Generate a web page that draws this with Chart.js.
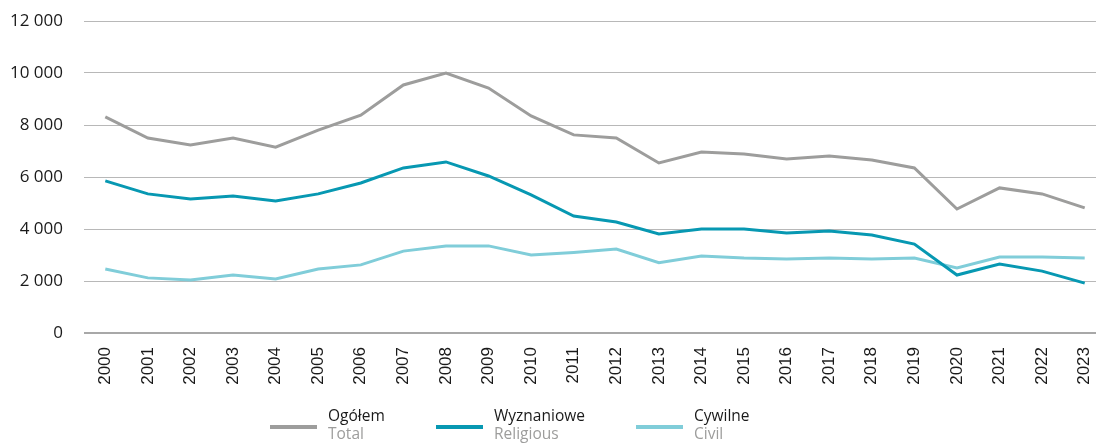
<!DOCTYPE html>
<html>

<head>
    <meta charset="utf-8">
    <title>Małżeństwa</title>
    <script src="https://cdn.jsdelivr.net/npm/chart.js"></script>
    <style>
        body { margin: 0; background: #fff; }
        #wrap { position: relative; width: 1096px; height: 446px; overflow: hidden; }
        #legend { position: absolute; left: 0; top: 406px; width: 1096px; height: 40px;
                  font-family: "Open Sans", sans-serif; font-size: 15.5px; line-height: 18px; }
        .item { position: absolute; top: 0; display: flex; align-items: flex-start; }
        .swatch { width: 47px; height: 4px; margin-top: 19px; margin-right: 11px; }
        .en { color: #9d9d9c; }
        .pl { color: #1a1a1a; }
    </style>
</head>

<body>
    <div id="wrap">
        <!-- the source picture is cut off on the right, so the canvas is a bit wider than the page -->
        <canvas id="myChart" width="1106" height="446"></canvas>
        <div id="legend"></div>
    </div>

    <script>
        // Data
        const years = ['2000', '2001', '2002', '2003', '2004', '2005', '2006', '2007', '2008', '2009', '2010', '2011',
            '2012', '2013', '2014', '2015', '2016', '2017', '2018', '2019', '2020', '2021', '2022', '2023'];
        const total = [8310, 7500, 7230, 7500, 7150, 7800, 8380, 9540, 10000, 9420, 8350, 7620,
            7500, 6540, 6960, 6880, 6690, 6810, 6650, 6350, 4770, 5580, 5350, 4810];
        const religious = [5850, 5350, 5150, 5270, 5080, 5350, 5770, 6350, 6580, 6040, 5310, 4500,
            4270, 3810, 4000, 4000, 3850, 3920, 3770, 3420, 2230, 2650, 2380, 1920];
        const civil = [2460, 2120, 2040, 2230, 2080, 2460, 2620, 3150, 3350, 3350, 3000, 3100,
            3230, 2700, 2960, 2880, 2850, 2880, 2850, 2880, 2500, 2920, 2920, 2880];
        const seriesPl = ['Ogółem', 'Wyznaniowe', 'Cywilne'];
        const seriesEn = ['Total', 'Religious', 'Civil'];
        const colors = ['#9d9d9c', '#0798b2', '#80cdd9'];

        const fmt = v => String(v).replace(/\B(?=(\d{3})+(?!\d))/g, ' ');

        const ctx = document.getElementById('myChart').getContext('2d');
        const values = [total, religious, civil];

        const myChart = new Chart(ctx, {
            type: 'line',
            data: {
                labels: years,
                datasets: values.map((d, i) => ({
                    label: seriesPl[i],
                    data: d,
                    borderColor: colors[i],
                    backgroundColor: colors[i],
                    borderWidth: 3,
                    pointRadius: 0,
                    tension: 0
                }))
            },
            options: {
                responsive: false,
                animation: false,
                layout: { padding: { top: 21, right: 0, bottom: 0, left: 0 } },
                plugins: { legend: { display: false }, tooltip: { enabled: false } },
                scales: {
                    x: {
                        offset: true,
                        grid: { display: false, drawTicks: false },
                        border: { display: false },
                        ticks: {
                            minRotation: 90, maxRotation: 90, padding: 14,
                            color: '#1a1a1a',
                            font: { family: 'Liberation Sans', size: 17 }
                        },
                        afterFit: s => { s.height = 113; s.paddingLeft = 0; s.paddingRight = 0; }
                    },
                    y: {
                        min: 0, max: 12000,
                        grid: {
                            drawTicks: false,
                            color: c => c.tick && c.tick.value === 0 ? '#a8a8a8' : '#b8b8b8',
                            lineWidth: c => c.tick && c.tick.value === 0 ? 2 : 1
                        },
                        border: { display: false },
                        ticks: {
                            stepSize: 2000, padding: 21,
                            color: '#1a1a1a',
                            font: { family: 'Open Sans', size: 17 },
                            callback: v => fmt(v)
                        },
                        afterFit: s => { s.width = 84; s.paddingTop = 0; s.paddingBottom = 0; }
                    }
                }
            }
        });

        // HTML legend with Polish / English labels
        const legendX = [270, 436, 636];
        const legend = document.getElementById('legend');
        seriesPl.forEach((name, i) => {
            const item = document.createElement('div');
            item.className = 'item';
            item.style.left = legendX[i] + 'px';
            item.innerHTML = '<div class="swatch" style="background:' + colors[i] + '"></div>' +
                '<div><div class="pl">' + name + '</div><div class="en">' + seriesEn[i] + '</div></div>';
            legend.appendChild(item);
        });
    </script>

</body>

</html>
